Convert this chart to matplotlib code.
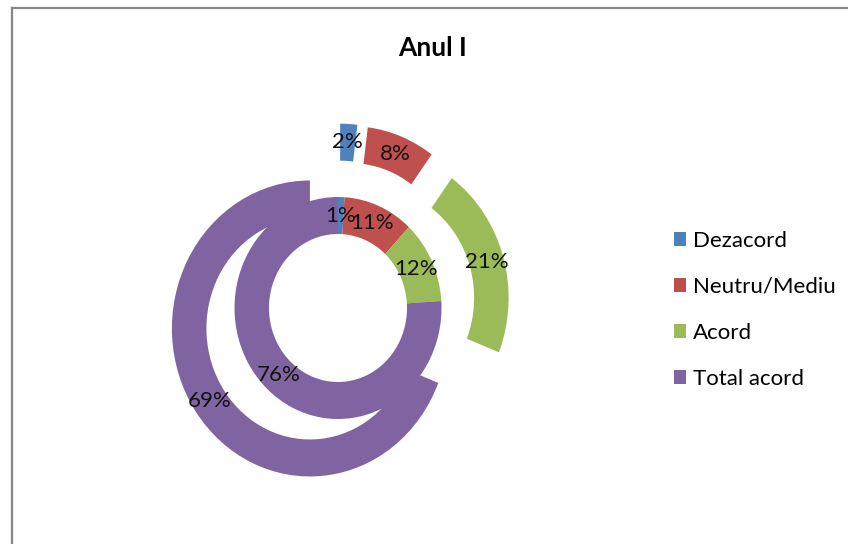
import matplotlib.pyplot as plt
from matplotlib.lines import Line2D

# data
categories = ['Dezacord', 'Neutru/Mediu', 'Acord', 'Total acord']
inner_vals = [1, 11, 12, 76]
outer_vals = [2, 8, 21, 69]
colors = ['#4F81BD', '#C0504D', '#9BBB59', '#8064A2']

plt.rcParams['font.family'] = ['Lato', 'DejaVu Sans']

W, H = 848, 544
fig = plt.figure(figsize=(W / 100, H / 100), dpi=100)

# doughnut centre in pixels, one data unit = ux px wide, uy px tall
cx, cy = 338, H - 308
ux, uy = 138, 148
ax = fig.add_axes([(cx - 2 * ux) / W, (cy - 1.5 * uy) / H, 4 * ux / W, 3 * uy / H])

pct = lambda p: '{:.0f}%'.format(p)

# outer ring, exploded
outer, _, outer_txt = ax.pie(outer_vals, radius=1.0, colors=colors, startangle=90,
                             counterclock=False, explode=[0.246] * 4,
                             wedgeprops=dict(width=0.25, linewidth=0),
                             autopct=pct, pctdistance=0.875)
# inner ring
inner, _, inner_txt = ax.pie(inner_vals, radius=0.75, colors=colors, startangle=90,
                             counterclock=False,
                             wedgeprops=dict(width=0.25, linewidth=0),
                             autopct=pct, pctdistance=0.625 / 0.75)
for t in outer_txt + inner_txt:
    t.set_fontsize(16)
    t.set_color('#111111')

ax.set_aspect('auto')
ax.set_xlim(-2, 2)
ax.set_ylim(-1.5, 1.5)
ax.axis('off')

fig.text(433 / W, 1 - 48 / H, 'Anul I', ha='center', va='center',
         fontsize=19, fontweight='bold')

fig.legend(handles=outer, labels=categories, loc='upper left',
           bbox_to_anchor=(674 / W, 1 - 231 / H), frameon=False, fontsize=16,
           handlelength=0.55, handleheight=0.55, handletextpad=0.3,
           labelspacing=1.17, borderpad=0, borderaxespad=0)

# chart border (only top and left edges visible)
fig.add_artist(Line2D([12 / W, 12 / W], [0, 1 - 8 / H], color='#878787', lw=1.6))
fig.add_artist(Line2D([12 / W, 1], [1 - 8 / H, 1 - 8 / H], color='#878787', lw=1.6))

fig.savefig('out.png', dpi=100)
